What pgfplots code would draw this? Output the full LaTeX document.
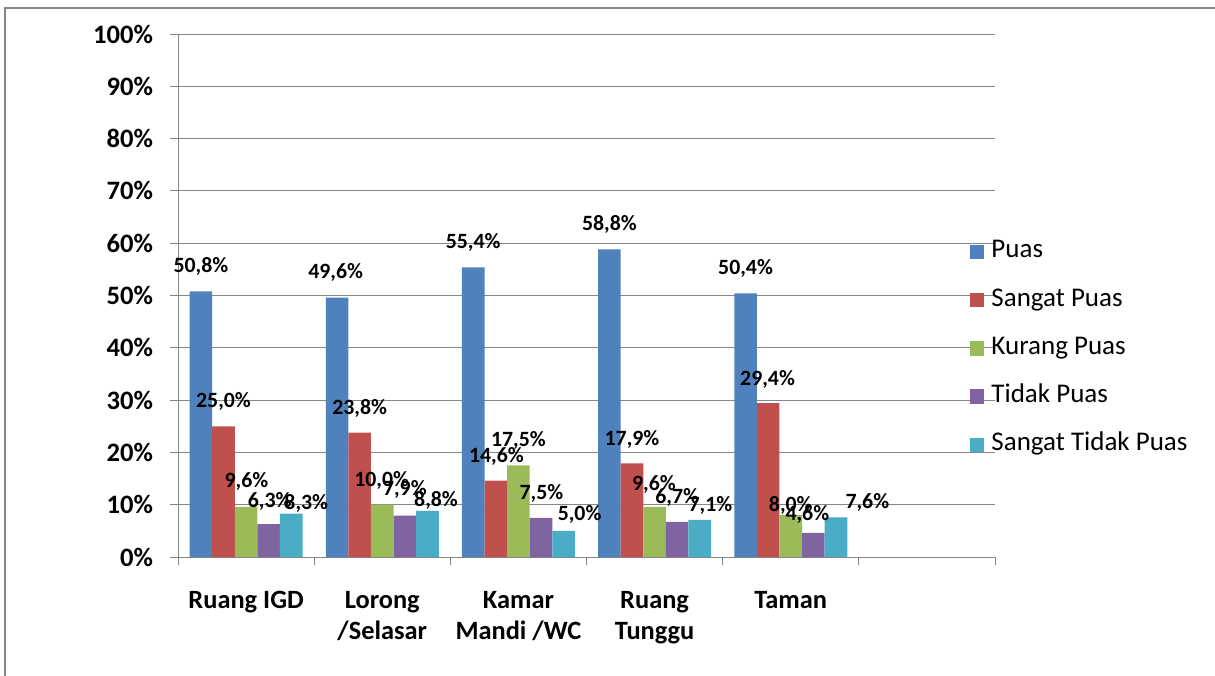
\documentclass[border=0pt]{standalone}
\usepackage{pgfplots}
\pgfplotsset{compat=1.18}
\usepackage{fontspec}
\setmainfont{Carlito}
\definecolor{c1}{HTML}{4F81BD}
\definecolor{c2}{HTML}{C0504D}
\definecolor{c3}{HTML}{9BBB59}
\definecolor{c4}{HTML}{8064A2}
\definecolor{c5}{HTML}{4BACC6}
\definecolor{gridc}{HTML}{868686}
\pgfplotsset{sq/.style={legend image code/.code={\fill[##1] (0pt,-3.6pt) rectangle (7.2pt,3.6pt);}}}
\begin{document}
\begin{tikzpicture}
\useasboundingbox (-89pt,-59pt) rectangle (518.5pt,278.5pt);
\draw[gridc, line width=1.2pt] (-86.5pt,-65pt) -- (-86.5pt,274.5pt) -- (525pt,274.5pt);
\begin{axis}[
  at={(0,0)}, anchor=south west,
  width=408.5pt, height=261.5pt, scale only axis,
  ybar=0pt, bar width=11.3pt,
  xmin=-0.5, xmax=5.5, ymin=0, ymax=100,
  axis x line*=bottom, axis y line*=left,
  axis line style={gridc},
  tick align=outside,
  major tick length=4pt, minor tick length=4pt,
  tick style={gridc, thin},
  xtick={0,1,2,3,4},
  xticklabels={Ruang IGD, Lorong\\/Selasar, Kamar\\Mandi /WC, Ruang\\Tunggu, Taman},
  major x tick style={draw=none},
  minor xtick={-0.5,0.5,...,5.5},
  ytick={0,10,...,100},
  ymajorgrids, grid style={gridc, thin},
  yticklabel={\pgfmathprintnumber{\tick}\%},
  /pgf/number format/assume math mode=true,
  yticklabel style={font=\fontsize{13.3}{16}\selectfont\bfseries, xshift=-5pt},
  xticklabel style={font=\fontsize{13.2}{15.5}\selectfont\bfseries, align=center, anchor=north, yshift=-9.5pt},
  nodes near coords={\pgfmathprintnumber[fixed,fixed zerofill,precision=1,use comma]{\pgfplotspointmeta}\%},
  visualization depends on={\thisrow{dx} \as \dx},
  visualization depends on={\thisrow{dy} \as \dy},
  nodes near coords style={font=\fontsize{10.9}{12}\selectfont\bfseries, anchor=center, inner sep=0pt, xshift=\dx pt, yshift=\dy pt},
  legend cell align=left,
  legend style={draw=none, fill=none, at={(0.969,0.399)}, anchor=west, inner sep=0pt,
    row sep=12.1pt, font=\fontsize{13.5}{16}\selectfont,
    nodes={text height=9pt, text depth=3pt, inner sep=0pt},
    /tikz/every odd column/.append style={column sep=3.5pt}},
]
\addplot[sq, fill=c1, draw=none] table {
x y dx dy
0 50.8 0 12.3
1 49.6 -0.7 12.6
2 55.4 0 12.5
3 58.8 0 12.3
4 50.4 0 12.5
};
\addplot[sq, fill=c2, draw=none] table {
x y dx dy
0 25.0 0 12.2
1 23.8 0 11.8
2 14.6 0.3 12.3
3 17.9 0 12
4 29.4 -0.3 12
};
\addplot[sq, fill=c3, draw=none] table {
x y dx dy
0 9.6 0.2 12.5
1 10.0 -0.3 12.3
2 17.5 0 12.7
3 9.6 -0.3 11
4 8.0 0 5
};
\addplot[sq, fill=c4, draw=none] table {
x y dx dy
0 6.3 0.5 11.5
1 7.9 0 13
2 7.5 0.2 12
3 6.7 0 12.5
4 4.6 -3 9
};
\addplot[sq, fill=c5, draw=none] table {
x y dx dy
0 8.3 7.5 5.3
1 8.8 4.3 5.2
2 5.0 8 8
3 7.1 5.3 7
4 7.6 15.7 7.5
};
\legend{Puas, Sangat Puas, Kurang Puas, Tidak Puas, Sangat Tidak Puas}
\end{axis}
\end{tikzpicture}
\end{document}
